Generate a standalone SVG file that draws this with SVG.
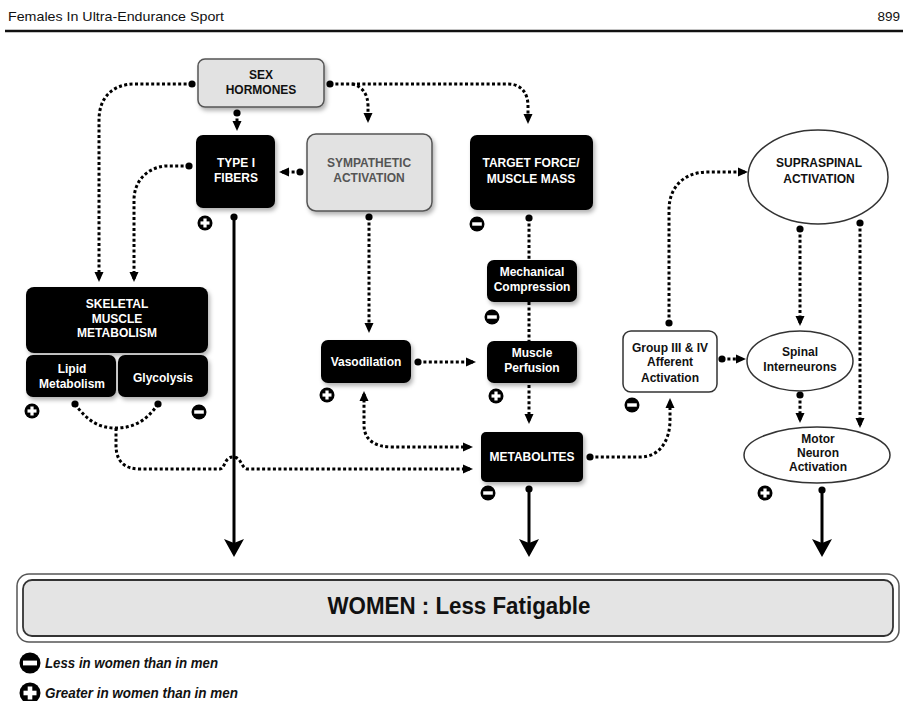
<svg xmlns="http://www.w3.org/2000/svg" xmlns:xlink="http://www.w3.org/1999/xlink" width="908" height="701" viewBox="0 0 908 701">
<style>
.t{font-family:"Liberation Sans",Arial,sans-serif;font-weight:bold;font-size:12px;text-anchor:middle}
.w{fill:#fff}
.k{fill:#111}
.g{fill:#555}
.blk{fill:#000;filter:url(#sh)}
.gry{fill:#e2e2e2;stroke:#555;stroke-width:1.5;filter:url(#sh)}
.wht{fill:#fff;stroke:#333;stroke-width:1.5}
.dt{fill:none;stroke:#000;stroke-width:3;stroke-dasharray:3 2.4}
.sl{fill:none;stroke:#000;stroke-width:3}
.hdr{font-family:"Liberation Sans",Arial,sans-serif;font-size:13.5px;fill:#111}
.leg{font-family:"Liberation Sans",Arial,sans-serif;font-size:14px;font-weight:bold;font-style:italic;fill:#111}
</style>
<defs>
<filter id="sh" x="-20%" y="-20%" width="150%" height="160%"><feDropShadow dx="2" dy="3" stdDeviation="2" flood-color="#000" flood-opacity="0.3"/></filter>
<marker id="ah" viewBox="0 0 10 10" refX="7" refY="5" markerWidth="10" markerHeight="10" markerUnits="userSpaceOnUse" orient="auto-start-reverse"><path d="M0,0.5 L10,5 L0,9.5 z" fill="#000"/></marker>
<marker id="dot" viewBox="0 0 8 8" refX="4" refY="4" markerWidth="8" markerHeight="8" markerUnits="userSpaceOnUse"><circle cx="4" cy="4" r="3.6" fill="#000"/></marker>
<marker id="big" viewBox="0 0 18 20" refX="8" refY="10" markerWidth="18" markerHeight="20" markerUnits="userSpaceOnUse" orient="auto"><path d="M0,0 L18,10 L0,20 L4,10 z" fill="#000"/></marker>
<g id="plus"><circle r="7.5" fill="#000"/><rect x="-4.5" y="-1.6" width="9" height="3.2" fill="#fff"/><rect x="-1.6" y="-4.5" width="3.2" height="9" fill="#fff"/></g>
<g id="minus"><circle r="7.5" fill="#000"/><rect x="-4.8" y="-1.7" width="9.6" height="3.4" fill="#fff"/></g>
<g id="plusL"><circle r="10.5" fill="#000"/><rect x="-6.5" y="-2.3" width="13" height="4.6" fill="#fff"/><rect x="-2.3" y="-6.5" width="4.6" height="13" fill="#fff"/></g>
<g id="minusL"><circle r="10.5" fill="#000"/><rect x="-7" y="-2.4" width="14" height="4.8" fill="#fff"/></g>
</defs>
<rect width="908" height="701" fill="#fff"/>

<g id="header">
<text class="hdr" x="8" y="21" textLength="216" lengthAdjust="spacingAndGlyphs">Females In Ultra-Endurance Sport</text>
<text class="hdr" x="900" y="21" text-anchor="end">899</text>
<line x1="5" y1="31" x2="903" y2="31" stroke="#111" stroke-width="2.5"/>
</g>

<g id="connectors">
<path class="dt" d="M192 84 H135 C112 84 99 98 99 120 V279" marker-start="url(#dot)" marker-end="url(#ah)"/>
<path class="dt" d="M189 166 H165 C146 168 134 182 134 200 V279" marker-start="url(#dot)" marker-end="url(#ah)"/>
<path class="dt" d="M237 113 V128" marker-start="url(#dot)" marker-end="url(#ah)"/>
<path class="dt" d="M330 84 H508 C522 84 528 94 528 106 V121" marker-start="url(#dot)" marker-end="url(#ah)"/>
<path class="dt" d="M352 84 C362 86 368 94 368 106 V120" marker-end="url(#ah)"/>
<path class="dt" d="M300 172 H282" marker-start="url(#dot)" marker-end="url(#ah)"/>
<path class="dt" d="M369 217 V330" marker-start="url(#dot)" marker-end="url(#ah)"/>
<path class="dt" d="M529 218 V260" marker-start="url(#dot)"/>
<path class="dt" d="M529 302 V341"/>
<path class="dt" d="M418 362 H473" marker-start="url(#dot)" marker-end="url(#ah)"/>
<path class="dt" d="M529 385 V421" marker-end="url(#ah)"/>
<path class="dt" d="M364 394 V425 C364 440 375 447 392 447 H470" marker-start="url(#ah)" marker-end="url(#ah)"/>
<path class="dt" d="M75 404 C88 422 100 428 116 428 C132 428 146 422 158 404" marker-start="url(#dot)" marker-end="url(#dot)"/>
<path class="dt" d="M116 428 V445 C116 462 125 469 140 469 H220 C225 469 224 457 233 457 C242 457 241 469 248 469 H470" marker-end="url(#ah)"/>
<path class="dt" d="M590 457 H640 C660 457 670 440 670 420 V401" marker-start="url(#dot)" marker-end="url(#ah)"/>
<path class="dt" d="M669 323 V210 C669 187 684 172 708 172 H745" marker-start="url(#dot)" marker-end="url(#ah)"/>
<path class="dt" d="M722 359 H743" marker-start="url(#dot)" marker-end="url(#ah)"/>
<path class="dt" d="M800 229 V323" marker-start="url(#dot)" marker-end="url(#ah)"/>
<path class="dt" d="M860 223 V425" marker-start="url(#dot)" marker-end="url(#ah)"/>
<path class="dt" d="M800 395 V420" marker-start="url(#dot)" marker-end="url(#ah)"/>
<path class="sl" d="M234 217 V547" marker-start="url(#dot)" marker-end="url(#big)"/>
<path class="sl" d="M529 489 V547" marker-start="url(#dot)" marker-end="url(#big)"/>
<path class="sl" d="M822 490 V547" marker-start="url(#dot)" marker-end="url(#big)"/>
</g>

<g id="sex-hormones">
<rect class="gry" x="198" y="59" width="126" height="48" rx="7"/>
<text class="t k" x="261" y="79">SEX</text>
<text class="t k" x="261" y="94">HORMONES</text>
</g>

<g id="type-i-fibers">
<rect class="blk" x="196" y="135" width="79" height="73" rx="7"/>
<text class="t w" x="236" y="167">TYPE I</text>
<text class="t w" x="236" y="182">FIBERS</text>
<use href="#plus" x="205" y="223"/>
</g>

<g id="sympathetic-activation">
<rect class="gry" x="307" y="134" width="125" height="77" rx="9"/>
<text class="t g" x="369" y="167">SYMPATHETIC</text>
<text class="t g" x="369" y="182">ACTIVATION</text>
</g>

<g id="target-force">
<rect class="blk" x="470" y="135" width="123" height="75" rx="7"/>
<text class="t w" x="531" y="167">TARGET FORCE/</text>
<text class="t w" x="531" y="183">MUSCLE MASS</text>
<use href="#minus" x="477" y="224"/>
</g>

<g id="skeletal-muscle-metabolism">
<rect class="blk" x="26" y="287" width="182" height="66" rx="8"/>
<text class="t w" x="117" y="308">SKELETAL</text>
<text class="t w" x="117" y="323">MUSCLE</text>
<text class="t w" x="117" y="337">METABOLISM</text>
</g>

<g id="lipid-metabolism">
<rect class="blk" x="26" y="355" width="90" height="42" rx="7"/>
<text class="t w" x="72" y="373">Lipid</text>
<text class="t w" x="72" y="388">Metabolism</text>
<use href="#plus" x="32" y="411"/>
</g>

<g id="glycolysis">
<rect class="blk" x="118" y="355" width="90" height="42" rx="7"/>
<text class="t w" x="163" y="382">Glycolysis</text>
<use href="#minus" x="199" y="412"/>
</g>

<g id="mechanical-compression">
<rect class="blk" x="487" y="260" width="90" height="42" rx="7"/>
<text class="t w" x="532" y="276">Mechanical</text>
<text class="t w" x="532" y="291">Compression</text>
<use href="#minus" x="492" y="317"/>
</g>

<g id="vasodilation">
<rect class="blk" x="321" y="340" width="90" height="43" rx="7"/>
<text class="t w" x="366" y="366">Vasodilation</text>
<use href="#plus" x="327" y="395"/>
</g>

<g id="muscle-perfusion">
<rect class="blk" x="487" y="341" width="90" height="42" rx="7"/>
<text class="t w" x="532" y="357">Muscle</text>
<text class="t w" x="532" y="372">Perfusion</text>
<use href="#plus" x="496" y="396"/>
</g>

<g id="metabolites">
<rect class="blk" x="481" y="432" width="102" height="50" rx="5"/>
<text class="t w" x="532" y="461">METABOLITES</text>
<use href="#minus" x="488" y="493"/>
</g>

<g id="group-iii-iv">
<rect class="wht" x="623" y="331" width="94" height="61" rx="8"/>
<text class="t k" x="670" y="352">Group III &amp; IV</text>
<text class="t k" x="670" y="366">Afferent</text>
<text class="t k" x="670" y="382">Activation</text>
<use href="#minus" x="632" y="405"/>
</g>

<g id="supraspinal-activation">
<ellipse class="wht" cx="818" cy="177" rx="70" ry="47"/>
<text class="t k" x="819" y="167">SUPRASPINAL</text>
<text class="t k" x="819" y="183">ACTIVATION</text>
</g>

<g id="spinal-interneurons">
<ellipse class="wht" cx="800" cy="361" rx="53" ry="30"/>
<text class="t k" x="800" y="356">Spinal</text>
<text class="t k" x="800" y="371">Interneurons</text>
</g>

<g id="motor-neuron-activation">
<ellipse class="wht" cx="817" cy="455" rx="73" ry="28"/>
<text class="t k" x="818" y="443">Motor</text>
<text class="t k" x="818" y="457">Neuron</text>
<text class="t k" x="818" y="471">Activation</text>
<use href="#plus" x="765" y="493"/>
</g>

<g id="women-less-fatigable">
<rect x="17" y="574" width="882" height="68" rx="12" fill="#fff" stroke="#555" stroke-width="1.5"/>
<rect x="23" y="580" width="870" height="56" rx="9" fill="#e4e4e4" stroke="#333" stroke-width="1.8"/>
<text x="459" y="614" font-family="'Liberation Sans',Arial,sans-serif" font-weight="bold" font-size="23" text-anchor="middle" fill="#111" textLength="263" lengthAdjust="spacingAndGlyphs">WOMEN : Less Fatigable</text>
</g>

<g id="legend">
<use href="#minusL" x="30" y="663"/>
<text class="leg" x="45" y="668" textLength="173" lengthAdjust="spacingAndGlyphs">Less in women than in men</text>
<use href="#plusL" x="30" y="693"/>
<text class="leg" x="45" y="698" textLength="193" lengthAdjust="spacingAndGlyphs">Greater in women than in men</text>
</g>
</svg>
